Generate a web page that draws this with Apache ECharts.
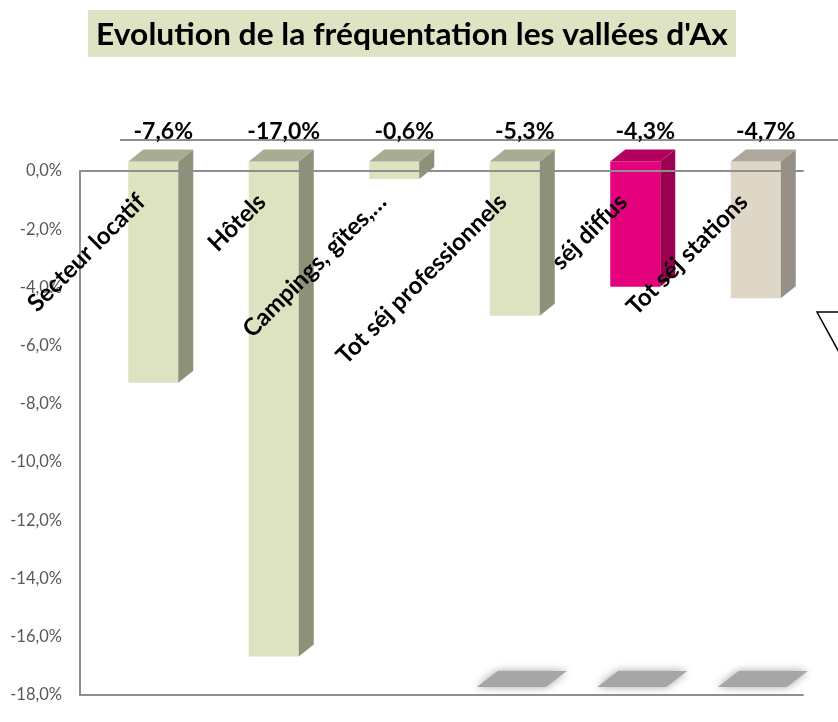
<!DOCTYPE html>
<html>
<head>
<meta charset="utf-8">
<title>Evolution de la fréquentation les vallées d'Ax</title>
<script src="https://cdn.jsdelivr.net/npm/echarts@6/dist/echarts.min.js"></script>
<style>
  html, body { margin: 0; padding: 0; background: #ffffff; }
  #chart { width: 838px; height: 722px; }
</style>
</head>
<body>
<div id="chart"></div>
<script>
// Categories and yearly change (%) for each accommodation type
const categories = ['Secteur locatif', 'Hôtels', 'Campings, gîtes,…', 'Tot séj professionnels', 'séj diffus', 'Tot séj stations'];
const evolution = [-7.6, -17.0, -0.6, -5.3, -4.3, -4.7];

// Value axis range and step
const yMin = -18;
const yMax = 0;
const yStep = 2;

// Face colours of the 3D columns
const palette = {
  green: { front: '#dde2c0', side: '#8d9178', top: '#a8ad91' },
  pink:  { front: '#e5007e', side: '#9c0051', top: '#b3005f' },
  sand:  { front: '#ded6c6', side: '#979087', top: '#afa89c' }
};
const columnTone = ['green', 'green', 'green', 'green', 'pink', 'sand'];
// Columns that cast a floor shadow
const castsShadow = [false, false, false, true, true, true];

const FONT = 'Lato';
const frameColor = '#8f8f8f';

// 3D projection settings (pixels)
const ROW_SHIFT = [13, -9.5];   // columns sit slightly behind the front axis plane
const DEPTH = [15, -12];        // column depth
const WALL = [40, -31];         // back wall offset
const BAR_FRACTION = 0.415;

const fmtPct = v => v.toFixed(1).replace('.', ',') + '%';

function renderColumn(params, api) {
  const i = api.value(0);
  const v = api.value(1);
  const base = api.coord([i, 0]);
  const end = api.coord([i, v]);
  const band = api.size([1, 0])[0];
  const w = band * BAR_FRACTION;
  const cx = base[0] + ROW_SHIFT[0];
  const xl = cx - w / 2, xr = cx + w / 2;
  const top = base[1] + ROW_SHIFT[1];
  const bottom = end[1] + ROW_SHIFT[1];
  const dx = DEPTH[0], dy = DEPTH[1];
  const tone = palette[columnTone[i]];
  const children = [];

  if (castsShadow[i]) {
    const cs = params.coordSys;
    const floor = cs.y + cs.height;
    const c = base[0];
    children.push({
      type: 'polygon',
      shape: { points: [[c - 25, floor - 8], [c + 44, floor - 8], [c + 65, floor - 24], [c - 4, floor - 24]] },
      style: { fill: '#a6a6a6', shadowBlur: 8, shadowColor: 'rgba(160,160,160,1)' }
    });
  }

  children.push({
    type: 'rect',
    shape: { x: xl, y: top, width: w, height: bottom - top },
    style: { fill: tone.front }
  });
  children.push({
    type: 'polygon',
    shape: { points: [[xr, top], [xr + dx, top + dy], [xr + dx, bottom + dy], [xr, bottom]] },
    style: { fill: tone.side }
  });
  children.push({
    type: 'polygon',
    shape: { points: [[xl, top], [xl + dx, top + dy], [xr + dx, top + dy], [xr, top]] },
    style: { fill: tone.top }
  });
  // value label above the column
  children.push({
    type: 'text',
    style: {
      x: cx + 10, y: top + dy - 18,
      text: fmtPct(v),
      fill: '#000000',
      font: 'bold 23px ' + FONT,
      align: 'center',
      verticalAlign: 'middle'
    }
  });
  return { type: 'group', children: children };
}

// Category names, written diagonally just under the zero line
function renderCategoryName(params, api) {
  const i = api.value(0);
  const p = api.coord([i, 0]);
  return {
    type: 'text',
    x: p[0] + 1,
    y: p[1] + 27,
    rotation: Math.PI / 4,
    style: {
      x: 0, y: 0,
      text: categories[i],
      fill: '#000000',
      font: 'bold 24px ' + FONT,
      align: 'right',
      verticalAlign: 'middle'
    }
  };
}

// Back wall top edge
function renderWall(params, api) {
  const cs = params.coordSys;
  const y0 = api.coord([0, 0])[1];
  return {
    type: 'line',
    shape: { x1: cs.x + WALL[0], y1: y0 + WALL[1], x2: cs.x + cs.width + WALL[0] + 60, y2: y0 + WALL[1] },
    style: { stroke: frameColor, lineWidth: 2 }
  };
}

const chart = echarts.init(document.getElementById('chart'), null, { renderer: 'canvas' });

chart.setOption({
  backgroundColor: '#ffffff',
  animation: false,
  grid: { left: 80, top: 171, width: 723, height: 524, containLabel: false, outerBoundsMode: 'none' },
  xAxis: [
    {
      type: 'category',
      data: categories,
      position: 'bottom',
      z: 10,
      axisLine: { onZero: true, lineStyle: { color: frameColor, width: 2 } },
      axisTick: { show: false },
      axisLabel: { show: false }
    },
    {
      type: 'category',
      data: categories,
      position: 'bottom',
      axisLine: { onZero: false, lineStyle: { color: frameColor, width: 2 } },
      axisTick: { show: false },
      axisLabel: { show: false }
    }
  ],
  yAxis: {
    type: 'value',
    min: yMin,
    max: yMax,
    interval: yStep,
    axisLine: { show: true, lineStyle: { color: frameColor, width: 2 } },
    axisTick: { show: false },
    splitLine: { show: false },
    axisLabel: {
      margin: 18,
      color: '#595959',
      fontFamily: FONT,
      fontSize: 16.5,
      formatter: v => fmtPct(v)
    }
  },
  series: [
    {
      type: 'custom',
      renderItem: renderWall,
      data: [[0, 0]],
      silent: true,
      z: 1
    },
    {
      type: 'custom',
      renderItem: renderColumn,
      data: evolution.map((v, i) => [i, v]),
      clip: false,
      z: 2
    },
    {
      type: 'custom',
      renderItem: renderCategoryName,
      data: categories.map((c, i) => [i, 0]),
      clip: false,
      silent: true,
      z: 20
    }
  ],
  graphic: [
    {
      type: 'group',
      left: 88,
      top: 10,
      children: [
        { type: 'rect', shape: { x: 0, y: 0, width: 648, height: 47 }, style: { fill: '#dde3c3' } },
        {
          type: 'text',
          x: 324, y: 25,
          scaleX: 1.06,
          style: {
            text: "Evolution de la fréquentation les vallées d'Ax",
            font: 'bold 30px ' + FONT,
            fill: '#000000',
            align: 'center',
            verticalAlign: 'middle'
          }
        }
      ]
    },
    {
      type: 'polyline',
      shape: { points: [[840, 312], [817, 312], [840, 354]] },
      style: { stroke: '#000000', lineWidth: 1.5, fill: null }
    }
  ]
});
</script>
</body>
</html>
